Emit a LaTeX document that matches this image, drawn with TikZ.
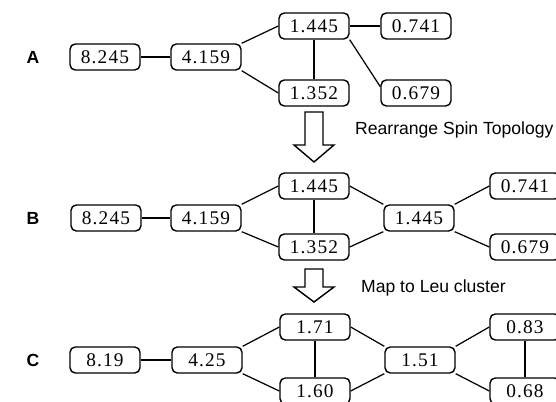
\documentclass[tikz,border=0pt]{standalone}
\usepackage{fontspec}
\setmainfont{Liberation Serif}
\newfontfamily\numfont[LetterSpace=6]{Liberation Serif}
\newfontfamily\labfont{Liberation Sans}

\tikzset{
  val/.style={draw, rounded corners=3pt, line width=0.8pt, minimum width=1.4cm,
    minimum height=0.52cm, inner sep=0pt, font=\numfont\fontsize{11}{11}\selectfont},
  row/.style={font=\labfont\bfseries\fontsize{10}{10}\selectfont},
  note/.style={anchor=west, font=\labfont\fontsize{10}{10}\selectfont},
  link/.style={line width=0.7pt},
  hollow/.style={line width=0.8pt, line join=miter},
}

\begin{document}
\begin{tikzpicture}[x=0.02cm,y=-0.02cm]
\useasboundingbox (0,0) rectangle (556,402);

% row A
\node[row] (la) at (33,57) {A};
\node[val] (a1) at (105,57) {8.245};
\node[val] (a2) at (206,57) {4.159};
\node[val] (a3) at (314,26) {1.445};
\node[val] (a4) at (314,93) {1.352};
\node[val] (a5) at (416,26) {0.741};
\node[val] (a6) at (416,93) {0.679};

\draw[link] (a1) -- (a2);
\draw[link] (a2.north east) -- (a3.west);
\draw[link] (a2.south east) -- (a4.west);
\draw[link] (a3) -- (a4);
\draw[link] (a3) -- (a5);
\draw[link] (a3.south east) -- (a6.170);

% first step
\coordinate (s1) at (314,112);
\draw[hollow] (s1) ++(-9,0) -- ++(0,33) -- ++(-11,0) -- ++(20,17) -- ++(20,-17)
  -- ++(-11,0) -- ++(0,-33) -- cycle;
\node[note] (t1) at (349,130) {Rearrange Spin Topology};

% row B
\node[row] (lb) at (33,218) {B};
\node[val] (b1) at (106,218) {8.245};
\node[val] (b2) at (206,218) {4.159};
\node[val] (b3) at (314,186) {1.445};
\node[val] (b4) at (314,247) {1.352};
\node[val] (b5) at (419,218) {1.445};
\node[val] (b6) at (525,186) {0.741};
\node[val] (b7) at (525,247) {0.679};

\draw[link] (b1) -- (b2);
\draw[link] (b2.north east) -- (b3.west);
\draw[link] (b2.south east) -- (b4.west);
\draw[link] (b3) -- (b4);
\draw[link] (b3.east) -- (b5.north west);
\draw[link] (b4.east) -- (b5.south west);
\draw[link] (b5.north east) -- (b6.west);
\draw[link] (b5.south east) -- (b7.west);

% second step
\coordinate (s2) at (314,269);
\draw[hollow] (s2) ++(-9,0) -- ++(0,18) -- ++(-11,0) -- ++(20,15) -- ++(20,-15)
  -- ++(-11,0) -- ++(0,-18) -- cycle;
\node[note] (t2) at (355,288) {Map to Leu cluster};

% row C
\node[row] (lc) at (33,360) {C};
\node[val] (c1) at (105,360) {8.19};
\node[val] (c2) at (207,360) {4.25};
\node[val] (c3) at (315,327) {1.71};
\node[val] (c4) at (315,391) {1.60};
\node[val] (c5) at (420,360) {1.51};
\node[val] (c6) at (525,327) {0.83};
\node[val] (c7) at (525,391) {0.68};

\draw[link] (c1) -- (c2);
\draw[link] (c2.north east) -- (c3.west);
\draw[link] (c2.south east) -- (c4.west);
\draw[link] (c3) -- (c4);
\draw[link] (c3.east) -- (c5.north west);
\draw[link] (c4.east) -- (c5.south west);
\draw[link] (c5.north east) -- (c6.west);
\draw[link] (c5.south east) -- (c7.west);
\draw[link] (c6) -- (c7);

\end{tikzpicture}
\end{document}
